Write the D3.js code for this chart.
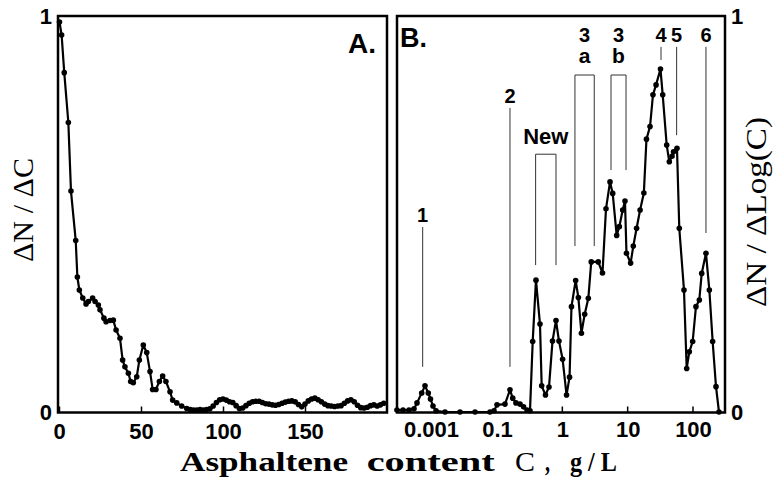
<!DOCTYPE html>
<html><head><meta charset="utf-8">
<script src="https://cdn.jsdelivr.net/npm/d3@7"></script>
<style>body{margin:0;background:#fff}svg{display:block}</style>
</head><body>
<svg id="c" width="775" height="486"></svg>
<script>
// Panel A: dN/dC vs concentration (g/L)
const aConc = [0.3,1.6,3.2,5.7,7.3,10.2,11.2,12.4,14.5,16.5,17.9,20.5,22,24,25,27.4,28.7,31.1,33.1,34.8,37.2,38.8,40.2,42.3,43.7,45.3,47.4,49,51.4,53.5,55.5,57.1,59.1,61.2,63.2,65.2,67.7,69.3,71.8,74.8,77.9,
  80,82,84,86,88,90,92,94,96,98,100,102,104,106,108,110,112,114,116,118,120,122,124,126,128,130,132,134,136,138,140,142,144,146,148,150,152,154,156,158,160,162,164,166,168,170,172,174,176,178,180,182,184,186,188,190,192,194,196,198];
const aDist = [0.985,0.952,0.857,0.731,0.558,0.433,0.341,0.308,0.288,0.273,0.279,0.288,0.279,0.27,0.258,0.237,0.228,0.231,0.232,0.207,0.186,0.131,0.114,0.098,0.077,0.074,0.089,0.131,0.169,0.15,0.102,0.057,0.057,0.077,0.091,0.077,0.051,0.03,0.023,0.015,0.009,
  0.006,0.005,0.005,0.006,0.005,0.006,0.008,0.015,0.024,0.031,0.033,0.03,0.026,0.024,0.016,0.009,0.01,0.016,0.022,0.026,0.027,0.027,0.024,0.021,0.02,0.018,0.017,0.019,0.022,0.025,0.027,0.028,0.026,0.019,0.013,0.02,0.028,0.033,0.035,0.031,0.026,0.02,0.016,0.015,0.014,0.015,0.016,0.022,0.028,0.031,0.026,0.017,0.011,0.01,0.012,0.016,0.018,0.015,0.018,0.022];

// Panel B: dN/dlog(C) vs concentration (g/L, log)
const bConc = [0.000093,0.000142,0.000216,0.000306,0.000377,0.000523,0.000658,0.000828,0.000966,0.00115,0.00142,0.00266,0.00756,0.0216,0.0613,0.0811,0.1,0.1326,0.158,0.174,0.195,0.225,0.255,0.288,0.32,0.352,0.395,0.455,0.483,0.552,0.625,0.707,0.8,0.889,1.01,1.16,1.29,1.38,1.6,1.76,1.96,2.2,2.5,2.77,3.55,4.12,4.66,5.37,5.9,6.79,7.45,8.39,9.1,9.59,11.1,12.2,13.7,15.5,17.7,19.4,22,24.4,27.2,31.8,34.4,39.6,43.4,47.7,50.3,56.9,61.7,72.8,80.1,87.8,98.9,111,125,136,158,178,200,225,250];
const bDist = [0.005,0.005,0.005,0.008,0.023,0.048,0.066,0.048,0.033,0.015,0.003,0,0,0,0,0.003,0.018,0.02,0.056,0.035,0.023,0.02,0.013,0.005,0.003,0.178,0.333,0.222,0.066,0.043,0.063,0.179,0.231,0.179,0.133,0.043,0.088,0.266,0.332,0.289,0.199,0.247,0.287,0.379,0.379,0.351,0.513,0.581,0.552,0.446,0.468,0.51,0.533,0.401,0.376,0.419,0.464,0.51,0.553,0.689,0.721,0.801,0.826,0.866,0.801,0.674,0.632,0.646,0.657,0.666,0.464,0.308,0.11,0.152,0.178,0.266,0.283,0.35,0.401,0.308,0.178,0.064,0];

const aTicks = [0, 50, 100, 150];
const bTicks = [0.001, 0.1, 1, 10, 100];
const bTickLabels = ["0.001", "0.1", "1", "10", "100"];
const bInnerTicks = [1, 10, 100];
const yTicks = [0, 1];

// Peak annotations in panel B (concentration, ΔN/ΔLog(C) extent)
const peakLines = [
  {label: "1", c: 0.00056, top: 0.467, bottom: 0.114},
  {label: "2", c: 0.158, top: 0.768, bottom: 0.114},
  {label: "4", c: 32.4, top: 0.922, bottom: 0.889},
  {label: "5", c: 56.2, top: 0.922, bottom: 0.699},
  {label: "6", c: 158, top: 0.922, bottom: 0.452}
];
const peakBrackets = [
  {label: ["New"], c1: 0.39, c2: 0.80, top: 0.651, bottom: 0.371},
  {label: ["3", "a"], c1: 1.56, c2: 3.08, top: 0.851, bottom: 0.419},
  {label: ["3", "b"], c1: 5.56, c2: 9.44, top: 0.851, bottom: 0.611}
];

const svg = d3.select("#c");
const SANS = "'Liberation Sans', Arial, sans-serif";
const SERIF = "'Liberation Serif', 'Times New Roman', serif";

const y = d3.scaleLinear().domain([0, 1]).range([412, 16]);
const xA = d3.scaleLinear().domain([0, 200]).range([59, 387]);
const xBlog = d3.scaleLinear().domain([-4.03, -1, 2.49]).range([397, 497, 725]);
const xB = c => xBlog(Math.log10(c));

// ---------- Panel A ----------
const gA = svg.append("g");
const lineA = d3.line().x((d, i) => xA(aConc[i])).y(d => y(d));
gA.append("path").datum(aDist).attr("d", lineA).attr("fill", "none").attr("stroke", "#000").attr("stroke-width", 2.2).attr("stroke-linejoin", "round");
gA.selectAll("circle").data(aDist).join("circle")
  .attr("cx", (d, i) => xA(aConc[i])).attr("cy", d => y(d)).attr("r", 2.8).attr("fill", "#000");

const axA = d3.axisBottom(xA).tickValues(aTicks).tickSizeInner(-6).tickSizeOuter(0).tickPadding(11).tickFormat(d3.format("d"));
const gaxA = svg.append("g").attr("transform", "translate(0,412.5)").call(axA);
gaxA.select(".domain").remove();
gaxA.selectAll("line").attr("stroke", "#000").attr("stroke-width", 1.5);
gaxA.selectAll("text").attr("font-family", SANS).attr("font-weight", "bold").attr("font-size", 22).attr("fill", "#000");

const ayA = d3.axisLeft(y).tickValues(yTicks).tickSize(0).tickPadding(6).tickFormat(d3.format("d"));
const gayA = svg.append("g").attr("transform", "translate(58,0)").call(ayA);
gayA.select(".domain").remove();
gayA.selectAll("text").attr("font-family", SANS).attr("font-weight", "bold").attr("font-size", 22).attr("fill", "#000");

svg.append("rect").attr("x", 58).attr("y", 16).attr("width", 329).attr("height", 396.5)
  .attr("fill", "none").attr("stroke", "#000").attr("stroke-width", 2.5);
svg.append("text").attr("x", 376).attr("y", 53).attr("text-anchor", "end")
  .attr("font-family", SANS).attr("font-weight", "bold").attr("font-size", 28).text("A.");

// ---------- Panel B ----------
const gB = svg.append("g");
const annStroke = "#333";
peakLines.forEach(p => {
  gB.append("line").attr("x1", xB(p.c)).attr("x2", xB(p.c)).attr("y1", y(p.top)).attr("y2", y(p.bottom))
    .attr("stroke", annStroke).attr("stroke-width", 1);
  gB.append("text").attr("x", xB(p.c)).attr("y", y(p.top) - 5).attr("text-anchor", "middle")
    .attr("font-family", SANS).attr("font-weight", "bold").attr("font-size", 20).text(p.label);
});
peakBrackets.forEach(p => {
  const x1 = xB(p.c1), x2 = xB(p.c2);
  gB.append("path").attr("d", `M${x1},${y(p.bottom)}V${y(p.top)}H${x2}V${y(p.bottom)}`)
    .attr("fill", "none").attr("stroke", annStroke).attr("stroke-width", 1);
  const cx = (x1 + x2) / 2;
  if (p.label.length === 1) {
    gB.append("text").attr("x", cx).attr("y", y(p.top) - 10).attr("text-anchor", "middle")
      .attr("font-family", SANS).attr("font-weight", "bold").attr("font-size", 22).text(p.label[0]);
  } else {
    gB.append("text").attr("x", cx).attr("y", y(p.top) - 33).attr("text-anchor", "middle")
      .attr("font-family", SANS).attr("font-weight", "bold").attr("font-size", 20).text(p.label[0]);
    gB.append("text").attr("x", cx).attr("y", y(p.top) - 12).attr("text-anchor", "middle")
      .attr("font-family", SANS).attr("font-weight", "bold").attr("font-size", 21).text(p.label[1]);
  }
});

const lineB = d3.line().x((d, i) => xB(bConc[i])).y(d => y(d));
gB.append("path").datum(bDist).attr("d", lineB).attr("fill", "none").attr("stroke", "#000").attr("stroke-width", 2.2).attr("stroke-linejoin", "round");
gB.selectAll("circle").data(bDist).join("circle")
  .attr("cx", (d, i) => xB(bConc[i])).attr("cy", d => y(d)).attr("r", 2.8).attr("fill", "#000");

const axB = d3.axisBottom(xBlog).tickValues(bTicks.map(Math.log10)).tickSize(0).tickPadding(9)
  .tickFormat((d, i) => bTickLabels[i]);
const gaxB = svg.append("g").attr("transform", "translate(0,412.5)").call(axB);
gaxB.select(".domain").remove();
gaxB.selectAll("text").attr("font-family", SANS).attr("font-weight", "bold").attr("font-size", 22).attr("fill", "#000");
svg.append("g").selectAll("line").data(bInnerTicks).join("line")
  .attr("x1", d => xB(d)).attr("x2", d => xB(d)).attr("y1", 412.5).attr("y2", 406.5)
  .attr("stroke", "#000").attr("stroke-width", 1.5);

const ayB = d3.axisRight(y).tickValues(yTicks).tickSize(0).tickPadding(6).tickFormat(d3.format("d"));
const gayB = svg.append("g").attr("transform", "translate(725,0)").call(ayB);
gayB.select(".domain").remove();
gayB.selectAll("text").attr("font-family", SANS).attr("font-weight", "bold").attr("font-size", 22).attr("fill", "#000");

svg.append("rect").attr("x", 397).attr("y", 16).attr("width", 328).attr("height", 396.5)
  .attr("fill", "none").attr("stroke", "#000").attr("stroke-width", 2.5);
svg.append("text").attr("x", 400).attr("y", 47)
  .attr("font-family", SANS).attr("font-weight", "bold").attr("font-size", 27).text("B.");

// ---------- Axis titles ----------
const title = [
  {t: "Asphaltene", x: 180, w: 168, wt: "bold"},
  {t: "content", x: 366.7, w: 128, wt: "bold"},
  {t: "C", x: 515, w: 20, wt: "normal"},
  {t: ",", x: 545, w: 5, wt: "bold"},
  {t: "g / L", x: 570, w: 47, wt: "bold"}
];
title.forEach(p => {
  svg.append("text").attr("x", p.x).attr("y", 471).attr("font-family", SERIF).attr("font-weight", p.wt)
    .attr("font-size", 28).attr("textLength", p.w).attr("lengthAdjust", "spacingAndGlyphs").text(p.t);
});
svg.append("text").attr("transform", "translate(33,210) rotate(-90)").attr("text-anchor", "middle")
  .attr("font-family", SERIF).attr("font-weight", "normal").attr("font-size", 29)
  .attr("textLength", 104).attr("lengthAdjust", "spacingAndGlyphs").text("ΔN / ΔC");
svg.append("text").attr("transform", "translate(766,212) rotate(-90)").attr("text-anchor", "middle")
  .attr("font-family", SERIF).attr("font-weight", "normal").attr("font-size", 29)
  .attr("textLength", 190).attr("lengthAdjust", "spacingAndGlyphs").text("ΔN / ΔLog(C)");
</script>
</body></html>
